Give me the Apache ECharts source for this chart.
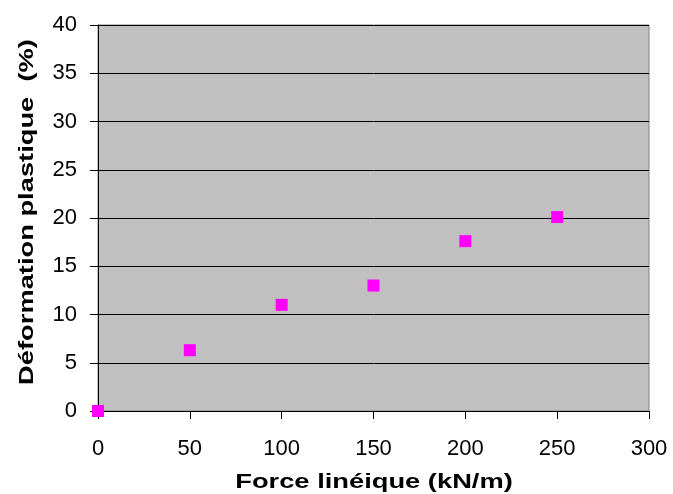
<!DOCTYPE html>
<html><head><meta charset="utf-8">
<script src="https://cdn.jsdelivr.net/npm/echarts@6/dist/echarts.min.js"></script>
<style>html,body{margin:0;padding:0;background:#fff}#c{width:673px;height:494px}</style>
</head><body><div id="c"></div>
<script>
const forceValues = [0, 50, 100, 150, 200, 250];
const deformValues = [0, 6.3, 11.0, 13.0, 17.6, 20.1];
const xTitle = 'Force linéique (kN/m)';
const yTitle = 'Déformation plastique  (%)';

const chart = echarts.init(document.getElementById('c'), null, {renderer: 'canvas'});
const font = 'Arial, "Liberation Sans", sans-serif';
const titleFont = 'bold 21px Arial, "Liberation Sans", sans-serif';
chart.setOption({
  animation: false,
  grid: {left: 98, right: 24, top: 25, bottom: 83, show: true, backgroundColor: '#C0C0C0', borderColor: '#808080', borderWidth: 1},
  xAxis: {
    type: 'value', min: 0, max: 300, interval: 50,
    axisLine: {show: true, onZero: false, lineStyle: {color: '#000', width: 1}},
    axisTick: {show: true, length: 8, inside: false, lineStyle: {color: '#000'}},
    axisLabel: {fontFamily: font, fontSize: 22, color: '#000', margin: 27},
    splitLine: {show: false}
  },
  yAxis: {
    type: 'value', min: 0, max: 40, interval: 5,
    axisLine: {show: true, onZero: false, lineStyle: {color: '#000', width: 1}},
    axisTick: {show: true, length: 8, lineStyle: {color: '#000'}},
    axisLabel: {fontFamily: font, fontSize: 22, color: '#000', margin: 21},
    splitLine: {show: true, lineStyle: {color: '#000', width: 1}}
  },
  graphic: [
    {type: 'text', x: 374, y: 482, scaleX: 1.3, silent: true,
     style: {text: xTitle, font: titleFont, fill: '#000', align: 'center', verticalAlign: 'middle'}},
    {type: 'text', x: 27, y: 212, rotation: Math.PI / 2, scaleX: 1.3, silent: true,
     style: {text: yTitle, font: titleFont, fill: '#000', align: 'center', verticalAlign: 'middle'}}
  ],
  series: [{
    type: 'scatter',
    symbol: 'rect', symbolSize: 12,
    itemStyle: {color: '#FF00FF', opacity: 1},
    clip: false,
    data: forceValues.map((x, i) => [x, deformValues[i]])
  }]
});
</script></body></html>
